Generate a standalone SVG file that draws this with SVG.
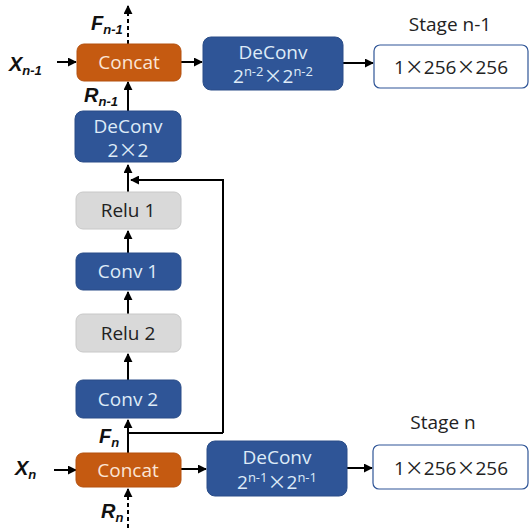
<svg xmlns="http://www.w3.org/2000/svg" width="531" height="528" viewBox="0 0 531 528">
<defs>
<marker id="ah" viewBox="0 0 10 10" refX="9" refY="5" markerWidth="9" markerHeight="9" markerUnits="userSpaceOnUse" orient="auto"><path d="M0,0 L10,5 L0,10 z" fill="#000"/></marker>
<style>
.blue{fill:#2F5597;stroke:#2A4D88;stroke-width:1}
.orange{fill:#C55A11;stroke:#B4510F;stroke-width:1}
.grey{fill:#D9D9D9;stroke:#C8C8C8;stroke-width:1}
.out{fill:#fff;stroke:#2F5597;stroke-width:1.2}
.t{font-family:"Open Sans","Noto Sans",sans-serif;font-size:19px;text-anchor:middle}
.x{font-family:"Noto Sans CJK SC",sans-serif}
.tb{fill:#DEEBF7}
.to{fill:#FBE5D6}
.tk{fill:#222}
.lab{font-family:"Liberation Sans",Arial,sans-serif;font-weight:bold;font-style:italic;font-size:20px;fill:#111}
.sub{font-size:13px}
.ln{stroke:#000;stroke-width:2;fill:none}
.dash{stroke:#000;stroke-width:2;fill:none;stroke-dasharray:4,3}
</style>
</defs>
<g id="connectors">
<path class="dash" d="M128,44 V6" marker-end="url(#ah)"/>
<path class="ln" d="M57,62 H76" marker-end="url(#ah)"/>
<path class="ln" d="M181,62 H202" marker-end="url(#ah)"/>
<path class="ln" d="M343,63 H373" marker-end="url(#ah)"/>
<path class="ln" d="M128,111 V82" marker-end="url(#ah)"/>
<path class="ln" d="M128,192 V165" marker-end="url(#ah)"/>
<path class="ln" d="M223,433 V180 H131" marker-end="url(#ah)"/>
<path class="ln" d="M128,253 V231" marker-end="url(#ah)"/>
<path class="ln" d="M128,314 V292" marker-end="url(#ah)"/>
<path class="ln" d="M128,380 V354" marker-end="url(#ah)"/>
<path class="ln" d="M128,453 V420" marker-end="url(#ah)"/>
<path class="ln" d="M128,433 H223"/>
<path class="ln" d="M54,470 H76" marker-end="url(#ah)"/>
<path class="ln" d="M181,469 H206" marker-end="url(#ah)"/>
<path class="ln" d="M347,468 H372" marker-end="url(#ah)"/>
<path class="dash" d="M128,528 V489" marker-end="url(#ah)"/>
</g>
<g id="concat-top">
<rect class="orange" x="77" y="44" width="104" height="37" rx="7"/>
<text class="t to" x="129" y="69">Concat</text>
</g>
<g id="deconv-top-right">
<rect class="blue" x="203" y="37" width="140" height="53" rx="8"/>
<text class="t tb" x="273" y="59">DeConv</text>
<text class="t tb" x="273" y="83">2<tspan font-size="13" baseline-shift="7">n-2</tspan><tspan class="x">×</tspan>2<tspan font-size="13" baseline-shift="7">n-2</tspan></text>
</g>
<g id="out-top">
<text class="t tk" x="450" y="31">Stage n-1</text>
<rect class="out" x="374" y="45" width="154" height="43" rx="6"/>
<text class="t tk" x="451" y="74" font-size="20">1<tspan class="x">×</tspan>256<tspan class="x">×</tspan>256</text>
</g>
<g id="deconv-2x2">
<rect class="blue" x="75" y="111" width="106" height="51" rx="8"/>
<text class="t tb" x="128" y="133">DeConv</text>
<text class="t tb" x="128" y="157">2<tspan class="x">×</tspan>2</text>
</g>
<g id="relu1">
<rect class="grey" x="76" y="192" width="105" height="37" rx="7"/>
<text class="t tk" x="128" y="217">Relu 1</text>
</g>
<g id="conv1">
<rect class="blue" x="76" y="253" width="105" height="37" rx="7"/>
<text class="t tb" x="128" y="278">Conv 1</text>
</g>
<g id="relu2">
<rect class="grey" x="76" y="314" width="105" height="38" rx="7"/>
<text class="t tk" x="128" y="340">Relu 2</text>
</g>
<g id="conv2">
<rect class="blue" x="76" y="380" width="105" height="38" rx="7"/>
<text class="t tb" x="128" y="406">Conv 2</text>
</g>
<g id="concat-bottom">
<rect class="orange" x="76" y="453" width="105" height="34" rx="7"/>
<text class="t to" x="128" y="477">Concat</text>
</g>
<g id="deconv-bottom-right">
<rect class="blue" x="207" y="441" width="140" height="55" rx="8"/>
<text class="t tb" x="277" y="464">DeConv</text>
<text class="t tb" x="277" y="489">2<tspan font-size="13" baseline-shift="7">n-1</tspan><tspan class="x">×</tspan>2<tspan font-size="13" baseline-shift="7">n-1</tspan></text>
</g>
<g id="out-bottom">
<text class="t tk" x="443" y="429">Stage n</text>
<rect class="out" x="373" y="445" width="155" height="44" rx="6"/>
<text class="t tk" x="451" y="475" font-size="20">1<tspan class="x">×</tspan>256<tspan class="x">×</tspan>256</text>
</g>
<g id="labels">
<text class="lab" x="9" y="71">X<tspan class="sub" dy="4">n-1</tspan></text>
<text class="lab" x="91" y="30">F<tspan class="sub" dy="4">n-1</tspan></text>
<text class="lab" x="84" y="102">R<tspan class="sub" dy="4">n-1</tspan></text>
<text class="lab" x="99" y="443">F<tspan class="sub" dy="4">n</tspan></text>
<text class="lab" x="15" y="475">X<tspan class="sub" dy="4">n</tspan></text>
<text class="lab" x="101" y="518">R<tspan class="sub" dy="4">n</tspan></text>
</g>
</svg>
